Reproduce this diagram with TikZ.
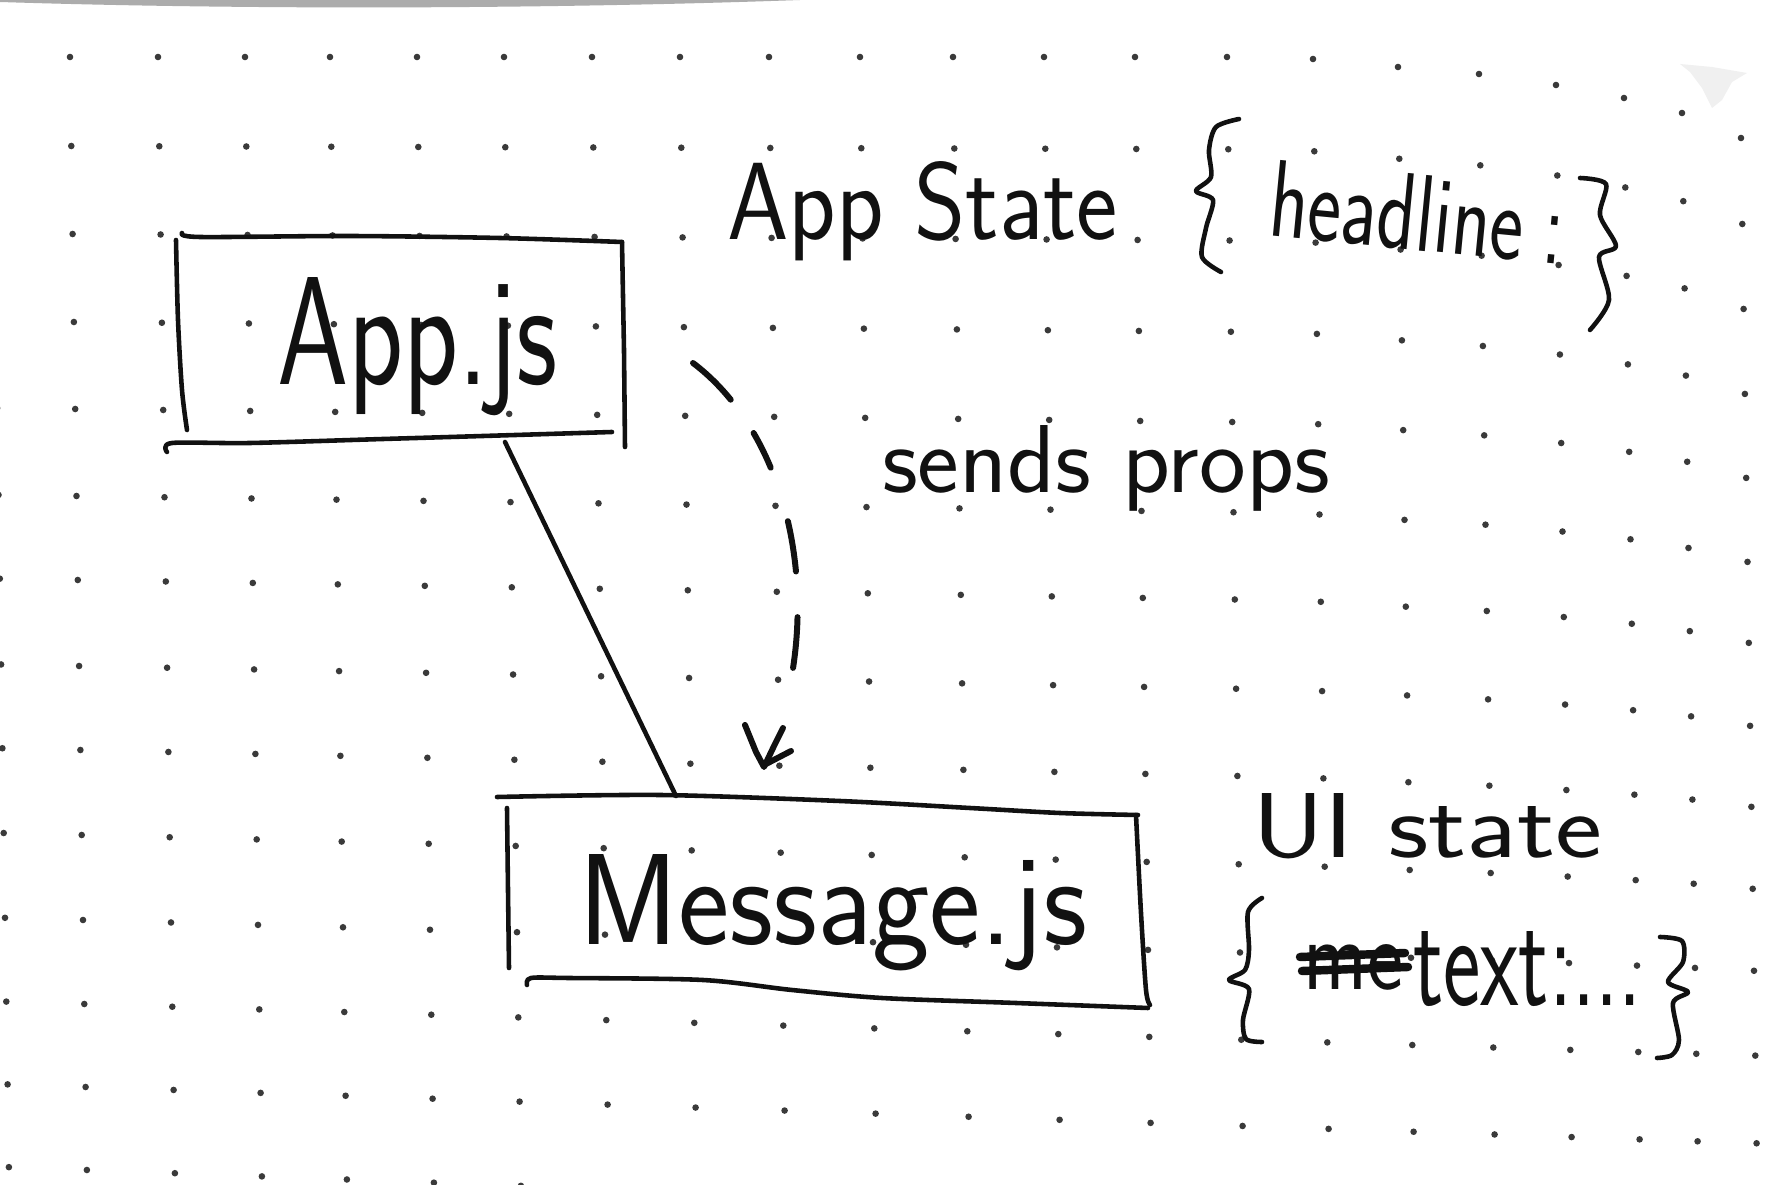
\documentclass[tikz,border=0pt]{standalone}
\usepackage{graphicx}
\usetikzlibrary{calc}
\newlength\pxu \setlength\pxu{0.01cm}
\newcommand\hand[3]{\resizebox{#1\pxu}{#2\pxu}{\sffamily\fontsize{30}{36}\selectfont #3}}
\definecolor{ink}{HTML}{111111}
\definecolor{dotc}{HTML}{3A3A3A}
\begin{document}
\begin{tikzpicture}[x=0.01cm,y=-0.01cm,
  pen/.style={draw=ink, line width=1.3pt, line cap=round, line join=round},
  dashpen/.style={draw=ink, line width=1.7pt, line cap=round, line join=round},
  txt/.style={inner sep=0pt, outer sep=0pt, anchor=base west, text=ink}]
\useasboundingbox (0,0) rectangle (1768,1185);
\clip (0,0) rectangle (1768,1185);
\fill[white] (0,0) rectangle (1768,1185);
% paper shadow and smudge
\fill[gray!65] (0,0) -- (0,2) .. controls (250,10) and (550,9) .. (800,0) -- cycle;
\fill[gray!12] (1680,64) -- (1712,67) -- (1747,73) -- (1732,82) -- (1722,100) -- (1712,108) -- (1702,88) -- (1690,72) -- cycle;
% dot grid
\foreach \xx/\kk in {-8/0,70/0,158/0,245/0,330/0,417/0,504/0,592/0,680/0,769/0,860/0,953/0,1044/0,1135/0,1227/0,1313/2,1398/10,1479/17,1556/28,1624/41,1682/56,1741/81}{
  \foreach \yy [count=\rj from 0] in {57,146,234,322,409,496,580,666,750,835,920,1004,1087,1170}{
    \pgfmathsetmacro\dx{\xx+1.3*\rj}
    \pgfmathsetmacro\dy{\yy+0.0028*\rj*(\xx-70)+\kk*max(0,1-\rj/10.5)}
    \fill[dotc] (\dx,\dy) circle[radius=3.3];
  }
}
% App.js box
\draw[pen] plot[smooth] coordinates {(182,233) (200,237) (350,236) (500,238) (622,242)};
\draw[pen] plot[smooth] coordinates {(176,240) (178,320) (182,390) (187,430)};
\draw[pen] (622,242) -- (624,350) -- (625,447);
\draw[pen] plot[smooth] coordinates {(167,452) (172,443) (250,443) (383,439) (483,436) (612,432)};
% Message.js box
\draw[pen] plot[smooth] coordinates {(497,797) (660,795) (840,801) (970,808) (1060,813) (1138,815)};
\draw[pen] (507,808) -- (508,890) -- (509,968);
\draw[pen] plot[smooth] coordinates {(1136,815) (1141,913) (1146,990) (1150,1005)};
\draw[pen] plot[smooth] coordinates {(527,985) (531,978) (569,978) (703,980) (792,990) (882,998) (1016,1003) (1148,1008)};
% texts
\node[txt] (appjs) at (277,385) {\hand{281}{107}{App.js}};
\node[txt] (msgjs) at (578,945) {\hand{509}{90}{Message.js}};
\node[txt] (appstate) at (727,240) {\hand{391}{78}{App State}};
\node[txt,rotate=-5.5] (headline) at (1267,236) {\hand{296}{76}{headline\hspace{0.25em}:}};
\node[txt] (sends) at (882,492) {\hand{448}{67}{sends props}};
\node[txt] (uistate) at (1252,857) {\hand{350}{64}{UI state}};
\node[txt] (me) at (1303,990) {\hand{100}{45}{me}};
\node[txt] (textdots) at (1413,1005) {\hand{229}{74}{text:...}};
% strike over "me"
\draw[draw=ink, line width=2.4pt, line cap=round] (1300,957) -- (1405,953);
\draw[draw=ink, line width=2.4pt, line cap=round] (1302,971) -- (1408,967);
% braces
\draw[pen] plot[smooth] coordinates {(1239,119) (1216,127) (1209,150) (1211,177) (1196,191) (1213,200) (1206,228) (1202,257) (1221,272)};
\draw[pen] plot[smooth] coordinates {(1580,178) (1606,184) (1600,215) (1616,246) (1599,257) (1609,300) (1590,330)};
\draw[pen] plot[smooth] coordinates {(1262,898) (1248,912) (1249,950) (1245,970) (1229,980) (1249,989) (1243,1020) (1246,1039) (1262,1042)};
\draw[pen] plot[smooth] coordinates {(1660,937) (1682,941) (1683,962) (1668,982) (1688,992) (1673,1003) (1679,1040) (1672,1055) (1657,1058)};
% solid connector
\coordinate (c1) at (505,442);
\coordinate (c2) at (676,796);
\draw[pen] (c1) -- (c2);
% dashed arrow
\coordinate (d1) at (693,363);
\coordinate (d2) at (764,767);
\draw[dashpen, dash pattern=on 15pt off 11.5pt on 11pt off 16pt on 14.5pt off 13pt on 14.5pt off 40pt] (d1) .. controls (795,440) and (830,620) .. (d2);
\draw[dashpen] (745,725) -- (756,752) -- (d2) -- (774,746) -- (783,728);
\draw[dashpen] (766,764) -- (791,751);
\end{tikzpicture}
\end{document}
